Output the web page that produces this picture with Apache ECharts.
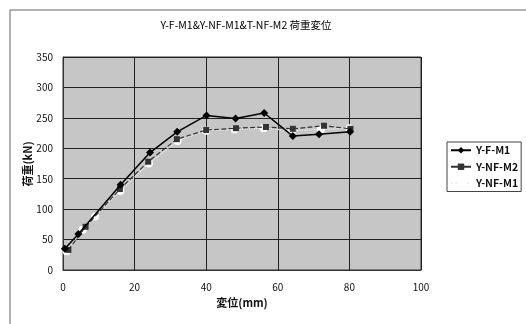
<!DOCTYPE html>
<html>
<head>
<meta charset="utf-8">
<title>荷重変位</title>
<script src="https://cdn.jsdelivr.net/npm/echarts@6/dist/echarts.min.js"></script>
<style>
  html, body { margin: 0; padding: 0; background: #fff; }
  #chart { width: 526px; height: 324px; }
</style>
</head>
<body>
<div id="chart"></div>
<script>
// 変位 (mm) / 荷重 (kN)
var xF1 = [0.5, 4.3, 16.1, 24.3, 31.9, 40.1, 48.2, 56.2, 64.2, 71.5, 80.2];
var yF1 = [35, 59, 140, 193, 227, 254, 249, 258, 220, 223, 227];
var xNF2 = [1.5, 6.3, 15.9, 23.8, 31.8, 40, 48.3, 56.7, 64.2, 72.9, 80.3];
var yNF2 = [33, 71, 133, 178, 215, 230, 233, 235, 232, 237, 232];
var xNF1 = [1, 5.5, 9, 16, 24, 32, 40, 48, 56, 64, 72, 80];
var yNF1 = [31, 66, 88, 130, 175, 212, 229, 231, 233, 229, 231, 233];

var FONT = '"Noto Sans CJK JP", "DejaVu Sans", sans-serif';

function pairs(xs, ys) {
  var out = [];
  for (var i = 0; i < xs.length; i++) out.push([xs[i], ys[i]]);
  return out;
}

var myChart = echarts.init(document.getElementById('chart'));
var option = {
  animation: false,
  backgroundColor: '#fff',
  textStyle: { fontFamily: FONT },
  title: {
    text: 'Y-F-M1&Y-NF-M1&T-NF-M2 荷重変位',
    left: 241, top: 15, textAlign: 'center',
    textStyle: { fontSize: 10.5, fontWeight: 'normal', color: '#000', fontFamily: FONT }
  },
  graphic: [{
    type: 'rect', shape: { x: 10, y: 10, width: 540, height: 340 },
    style: { fill: 'none', stroke: '#666', lineWidth: 1 }, z: -1
  }, {
    // y軸タイトル
    type: 'text', x: 28, y: 164, rotation: Math.PI / 2,
    style: {
      text: '荷重(kN)', font: 'bold 11px ' + FONT, fill: '#111',
      align: 'center', verticalAlign: 'middle'
    }
  }],
  legend: {
    orient: 'vertical', left: 447, top: 142,
    borderColor: '#444', borderWidth: 1, padding: [3, 3, 3, 3],
    itemWidth: 20, itemHeight: 8, itemGap: 6,
    textStyle: { fontSize: 10.5, fontWeight: 'bold', color: '#111', fontFamily: FONT },
    data: ['Y-F-M1', 'Y-NF-M2', 'Y-NF-M1']
  },
  grid: { left: 63, right: 105, top: 57, bottom: 54, show: true, backgroundColor: '#c6c6c6', borderColor: '#333', borderWidth: 1 },
  xAxis: {
    type: 'value', min: 0, max: 100, interval: 20,
    name: '変位(mm)', nameLocation: 'middle', nameGap: 24,
    nameTextStyle: { fontSize: 11, fontWeight: 'bold', color: '#111' },
    axisLine: { lineStyle: { color: '#333' } },
    axisTick: { show: false },
    axisLabel: { fontSize: 10, color: '#111', margin: 12 },
    splitLine: { lineStyle: { color: '#222', width: 1 } }
  },
  yAxis: {
    type: 'value', min: 0, max: 350, interval: 50,
    axisLine: { show: true, lineStyle: { color: '#333' } },
    axisTick: { show: false },
    axisLabel: { fontSize: 10, color: '#111', margin: 10 },
    splitLine: { lineStyle: { color: '#222', width: 1 } }
  },
  series: [{
    name: 'Y-F-M1', type: 'line', data: pairs(xF1, yF1),
    symbol: 'diamond', symbolSize: 8,
    lineStyle: { color: '#000', width: 1.5 },
    itemStyle: { color: '#000' }, z: 4
  }, {
    name: 'Y-NF-M2', type: 'line', data: pairs(xNF2, yNF2),
    symbol: 'rect', symbolSize: 6,
    lineStyle: { color: '#333', width: 1.2, type: 'dashed' },
    itemStyle: { color: '#333' }, z: 3
  }, {
    name: 'Y-NF-M1', type: 'line', data: pairs(xNF1, yNF1),
    symbol: 'emptyCircle', symbolSize: 6,
    lineStyle: { color: '#eee', width: 1.2, type: 'dotted' },
    itemStyle: { color: '#fff', borderColor: '#999', borderWidth: 1 }, z: 2
  }]
};
myChart.setOption(option);
</script>
</body>
</html>
